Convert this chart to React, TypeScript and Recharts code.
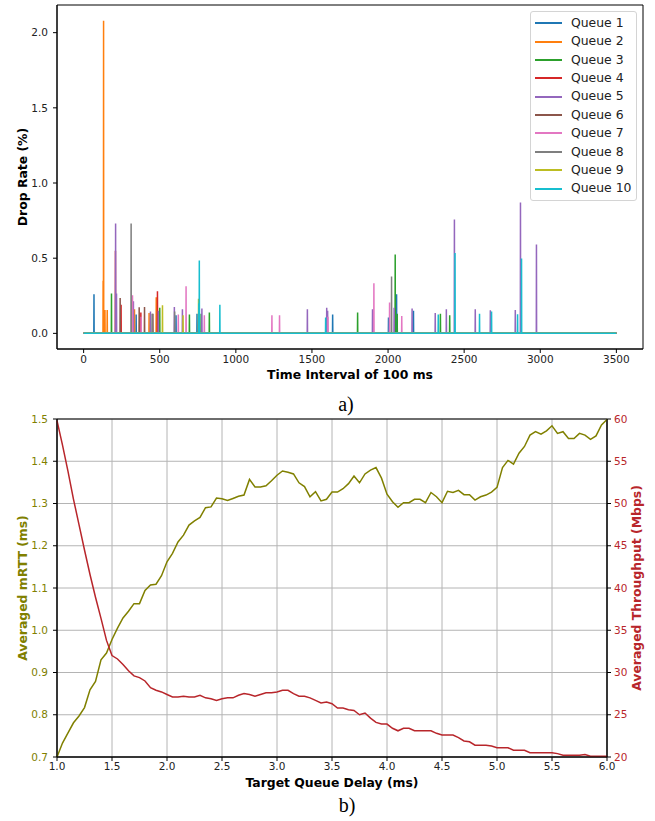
import React from 'react';
import { LineChart, Line, XAxis, YAxis, CartesianGrid, ReferenceArea, Legend } from 'recharts';

// ---- a) per-queue drop rate, sparse spikes as [interval, drop %] ----
const queueNames = ['Queue 1', 'Queue 2', 'Queue 3', 'Queue 4', 'Queue 5', 'Queue 6', 'Queue 7', 'Queue 8', 'Queue 9', 'Queue 10'];
const queueColors = ['#1f77b4', '#ff7f0e', '#2ca02c', '#d62728', '#9467bd', '#8c564b', '#e377c2', '#7f7f7f', '#bcbd22', '#17becf'];

const q1Drops = [[68, 0.26], [345, 0.125], [607, 0.12], [745, 0.13], [1636, 0.125], [2003, 0.105], [2056, 0.26], [2167, 0.15]];
const q2Drops = [[128, 0.35], [131, 2.08], [140, 0.155], [155, 0.155], [334, 0.16], [430, 0.135], [477, 0.24]];
const q3Drops = [[183, 0.265], [500, 0.17], [695, 0.125], [772, 0.13], [826, 0.138], [1800, 0.138], [2047, 0.525], [2060, 0.13], [2344, 0.13], [2405, 0.12]];
const q4Drops = [[209, 0.55], [246, 0.19], [376, 0.138], [485, 0.28]];
const q5Drops = [[210, 0.73], [216, 0.265], [327, 0.213], [439, 0.145], [491, 0.15], [596, 0.175], [649, 0.16], [777, 0.165], [1470, 0.16], [1597, 0.17], [1603, 0.15], [1898, 0.16], [2040, 0.17], [2158, 0.165], [2310, 0.135], [2383, 0.16], [2436, 0.758], [2573, 0.16], [2672, 0.153], [2836, 0.155], [2870, 0.871], [2975, 0.591]];
const q6Drops = [[240, 0.235], [365, 0.173], [400, 0.175], [455, 0.13]];
const q7Drops = [[321, 0.253], [378, 0.11], [622, 0.125], [673, 0.313], [793, 0.12], [1237, 0.12], [1287, 0.12], [1605, 0.11], [1907, 0.333], [2010, 0.205], [2090, 0.116]];
const q8Drops = [[312, 0.73], [450, 0.13], [598, 0.145], [2023, 0.378]];
const q9Drops = [[518, 0.187], [653, 0.12], [755, 0.23]];
const q10Drops = [[757, 0.2], [760, 0.485], [895, 0.19], [1590, 0.105], [2330, 0.125], [2440, 0.535], [2601, 0.13], [2680, 0.145], [2851, 0.127], [2877, 0.498]];
const queueDrops = [q1Drops, q2Drops, q3Drops, q4Drops, q5Drops, q6Drops, q7Drops, q8Drops, q9Drops, q10Drops];
const lastInterval = 3500;

const intervalTicks = [0, 500, 1000, 1500, 2000, 2500, 3000, 3500];
const dropTicks = [0, 0.5, 1, 1.5, 2];

// ---- b) mRTT / throughput vs target queue delay ----
const delays = [
  1.0, 1.05, 1.1, 1.15, 1.2, 1.25, 1.3, 1.35, 1.4, 1.45, 1.5,
  1.55, 1.6, 1.65, 1.7, 1.75, 1.8, 1.85, 1.9, 1.95, 2.0,
  2.05, 2.1, 2.15, 2.2, 2.25, 2.3, 2.35, 2.4, 2.45, 2.5,
  2.55, 2.6, 2.65, 2.7, 2.75, 2.8, 2.85, 2.9, 2.95, 3.0,
  3.05, 3.1, 3.15, 3.2, 3.25, 3.3, 3.35, 3.4, 3.45, 3.5,
  3.55, 3.6, 3.65, 3.7, 3.75, 3.8, 3.85, 3.9, 3.95, 4.0,
  4.05, 4.1, 4.15, 4.2, 4.25, 4.3, 4.35, 4.4, 4.45, 4.5,
  4.55, 4.6, 4.65, 4.7, 4.75, 4.8, 4.85, 4.9, 4.95, 5.0,
  5.05, 5.1, 5.15, 5.2, 5.25, 5.3, 5.35, 5.4, 5.45, 5.5,
  5.55, 5.6, 5.65, 5.7, 5.75, 5.8, 5.85, 5.9, 5.95, 6.0,
];
const mrtt = [
  0.700, 0.733, 0.757, 0.781, 0.797, 0.817, 0.859, 0.879, 0.930, 0.946, 0.978,
  1.005, 1.029, 1.045, 1.063, 1.063, 1.094, 1.107, 1.109, 1.129, 1.162,
  1.182, 1.209, 1.225, 1.249, 1.259, 1.267, 1.290, 1.292, 1.313, 1.311,
  1.307, 1.312, 1.317, 1.320, 1.357, 1.339, 1.339, 1.342, 1.354, 1.367,
  1.377, 1.374, 1.370, 1.349, 1.340, 1.316, 1.328, 1.306, 1.310, 1.327,
  1.327, 1.335, 1.347, 1.365, 1.349, 1.370, 1.379, 1.385, 1.360, 1.322,
  1.304, 1.291, 1.302, 1.302, 1.310, 1.310, 1.302, 1.326, 1.316, 1.302,
  1.329, 1.326, 1.331, 1.321, 1.321, 1.308, 1.316, 1.320, 1.327, 1.338,
  1.385, 1.402, 1.393, 1.419, 1.435, 1.462, 1.470, 1.464, 1.472, 1.484,
  1.466, 1.470, 1.454, 1.454, 1.466, 1.462, 1.452, 1.460, 1.486, 1.499,
];
const throughput = [
  59.8, 56.9, 53.8, 50.5, 47.5, 44.5, 41.6, 38.9, 36.4, 33.8, 32.0,
  31.6, 30.95, 30.2, 29.6, 29.4, 29.0, 28.2, 27.9, 27.7, 27.4,
  27.1, 27.1, 27.2, 27.1, 27.1, 27.3, 27.0, 26.9, 26.7, 26.9,
  27.0, 27.0, 27.3, 27.5, 27.4, 27.2, 27.4, 27.6, 27.6, 27.7,
  27.9, 27.9, 27.5, 27.2, 27.2, 27.0, 26.7, 26.4, 26.5, 26.3,
  25.8, 25.8, 25.6, 25.5, 25.0, 25.2, 24.6, 24.1, 23.9, 23.9,
  23.4, 23.1, 23.4, 23.4, 23.1, 23.1, 23.1, 23.1, 22.8, 22.6,
  22.6, 22.6, 22.3, 21.9, 21.8, 21.4, 21.4, 21.4, 21.3, 21.1,
  21.1, 21.1, 20.8, 20.8, 20.8, 20.5, 20.5, 20.5, 20.5, 20.5,
  20.4, 20.2, 20.2, 20.2, 20.2, 20.3, 20.1, 20.1, 20.1, 20.1,
];
const delayTicks = [1, 1.5, 2, 2.5, 3, 3.5, 4, 4.5, 5, 5.5, 6];
const mrttTicks = [0.7, 0.8, 0.9, 1.0, 1.1, 1.2, 1.3, 1.4, 1.5];
const throughputTicks = [20, 25, 30, 35, 40, 45, 50, 55, 60];

const OLIVE = '#808000';
const RED = '#b8262b';
const font = '"DejaVu Sans", sans-serif';

// every interval is a row; queues are zero except at their drop spikes
const dropRows: Record<string, number>[] = [];
for (let t = 0; t <= lastInterval; t++) {
  const row: Record<string, number> = { t };
  queueNames.forEach((_, i) => (row[`q${i + 1}`] = 0));
  dropRows.push(row);
}
queueDrops.forEach((spikes, i) => {
  spikes.forEach(([t, v]) => (dropRows[t][`q${i + 1}`] = v));
});

const delayRows = delays.map((d, i) => ({ d, mrtt: mrtt[i], tp: throughput[i] }));

const tickFont = { fontSize: 10.5, fill: '#222' };

// matplotlib-style legend box, kept in queue order
const renderLegend = () => (
  <div
    style={{
      border: '1px solid #d4d4d4',
      borderRadius: 3,
      background: 'rgba(255,255,255,0.85)',
      padding: '2px 0 2px 4px',
      boxSizing: 'border-box',
      width: 107,
    }}
  >
    {queueNames.map((name, i) => (
      <div key={name} style={{ display: 'flex', alignItems: 'center', height: 18.38 }}>
        <span style={{ display: 'inline-block', width: 27, height: 2, background: queueColors[i], marginRight: 9 }} />
        <span style={{ fontSize: 12.4, color: '#222', lineHeight: 1, whiteSpace: 'nowrap' }}>{name}</span>
      </div>
    ))}
  </div>
);

const title = (text: string, x: number, y: number, opts: { rotate?: boolean; color?: string; size?: number; serif?: boolean } = {}) => (
  <div
    style={{
      position: 'absolute',
      left: x,
      top: y,
      transform: `translate(-50%, -50%)${opts.rotate ? ' rotate(-90deg)' : ''}`,
      whiteSpace: 'nowrap',
      lineHeight: 1,
      fontSize: opts.size ?? 12.4,
      fontWeight: opts.serif ? 'normal' : 'bold',
      fontFamily: opts.serif ? '"Liberation Serif", serif' : font,
      color: opts.color ?? '#000',
    }}
  >
    {text}
  </div>
);

export default function App() {
  return (
    <div style={{ position: 'absolute', left: 0, top: 0, width: 655, height: 821, background: '#fff', fontFamily: font }}>
      <LineChart width={655} height={400} data={dropRows} margin={{ top: 5, right: 12, bottom: 0, left: 0 }}>
        <XAxis
          dataKey="t"
          type="number"
          domain={[-175, 3675]}
          ticks={intervalTicks}
          interval={0}
          height={51}
          tickSize={4}
          tickMargin={3}
          stroke="#000"
          tick={tickFont}
        />
        <YAxis
          type="number"
          domain={[-0.104, 2.184]}
          ticks={dropTicks}
          interval={0}
          width={57}
          tickSize={4}
          tickMargin={5}
          stroke="#000"
          tick={tickFont}
          tickFormatter={(v: number) => v.toFixed(1)}
        />
        <ReferenceArea x1={-175} x2={3675} y1={-0.104} y2={2.184} fill="none" stroke="#000" strokeWidth={1} ifOverflow="visible" />
        {queueNames.map((name, i) => (
          <Line
            key={name}
            name={name}
            dataKey={`q${i + 1}`}
            type="linear"
            stroke={queueColors[i]}
            strokeWidth={1.5}
            dot={false}
            activeDot={false}
            isAnimationActive={false}
          />
        ))}
        <Legend
          layout="vertical"
          align="center"
          verticalAlign="middle"
          content={renderLegend}
          wrapperStyle={{ left: 530, top: 11, width: 107, height: 188 }}
        />
      </LineChart>

      <div style={{ position: 'absolute', left: 0, top: 410 }}>
        <LineChart width={655} height={380} data={delayRows} margin={{ top: 9, right: 0, bottom: 0, left: 0 }}>
          <CartesianGrid yAxisId="left" stroke="#b4b4b4" strokeWidth={1} />
          <XAxis
            dataKey="d"
            type="number"
            domain={[1, 6]}
            ticks={delayTicks}
            interval={0}
            height={33}
            tickSize={4}
            tickMargin={2}
            stroke="#000"
            tick={tickFont}
            tickFormatter={(v: number) => v.toFixed(1)}
          />
          <YAxis
            yAxisId="left"
            type="number"
            domain={[0.7, 1.5]}
            ticks={mrttTicks}
            interval={0}
            width={57}
            tickSize={4}
            tickMargin={5}
            stroke="#000"
            tick={{ fontSize: 10.5, fill: OLIVE }}
            tickFormatter={(v: number) => v.toFixed(1)}
          />
          <YAxis
            yAxisId="right"
            orientation="right"
            type="number"
            domain={[20, 60]}
            ticks={throughputTicks}
            interval={0}
            width={48}
            tickSize={4}
            tickMargin={3}
            stroke="#000"
            tick={{ fontSize: 10.5, fill: RED }}
          />
          <ReferenceArea yAxisId="left" x1={1} x2={6} y1={0.7} y2={1.5} fill="none" stroke="#000" strokeWidth={1} ifOverflow="visible" />
          <Line yAxisId="left" dataKey="mrtt" type="linear" stroke={OLIVE} strokeWidth={1.5} dot={false} activeDot={false} isAnimationActive={false} />
          <Line yAxisId="right" dataKey="tp" type="linear" stroke={RED} strokeWidth={1.5} dot={false} activeDot={false} isAnimationActive={false} />
        </LineChart>
      </div>

      {title('Drop Rate (%)', 23, 177, { rotate: true })}
      {title('Time Interval of 100 ms', 350, 375)}
      {title('a)', 346, 404, { serif: true, size: 20 })}
      {title('Averaged mRTT (ms)', 23, 588, { rotate: true, color: OLIVE })}
      {title('Averaged Throughput (Mbps)', 637, 588, { rotate: true, color: RED })}
      {title('Target Queue Delay (ms)', 332, 783)}
      {title('b)', 347, 805, { serif: true, size: 20 })}
    </div>
  );
}
